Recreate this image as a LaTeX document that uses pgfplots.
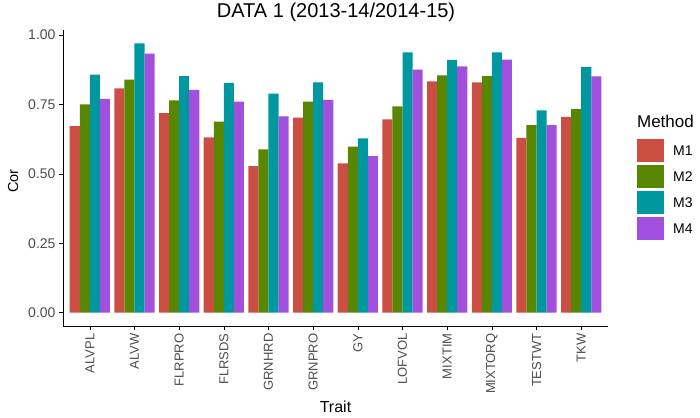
\documentclass[border=0pt]{standalone}
\usepackage{pgfplots}
\pgfplotsset{compat=1.18}
\usepackage{fontspec}
\setmainfont{Liberation Sans}
\definecolor{cM1}{RGB}{204,78,66}
\definecolor{cM2}{RGB}{88,134,0}
\definecolor{cM3}{RGB}{0,152,160}
\definecolor{cM4}{RGB}{161,80,221}
\definecolor{tickgray}{RGB}{77,77,77}
\begin{document}
\begin{tikzpicture}
\begin{axis}[
  at={(63pt,91pt)}, anchor=south west,
  scale only axis, width=545pt, height=296pt,
  xmin=-0.6, xmax=11.6, ymin=-0.0485, ymax=1.0185,
  axis x line*=bottom, axis y line*=left,
  axis line style={black, line width=0.8pt, -},
  xtick={0,...,11},
  xticklabels={ALVPL,ALVW,FLRPRO,FLRSDS,GRNHRD,GRNPRO,GY,LOFVOL,MIXTIM,MIXTORQ,TESTWT,TKW},
  ytick={0,0.25,0.5,0.75,1},
  tick align=outside, major tick length=4pt,
  tick style={black, line width=0.6pt},
  /pgf/number format/assume math mode=true,
  y tick label style={font=\fontsize{14}{16}\selectfont, text=tickgray, /pgf/number format/.cd, fixed, fixed zerofill, precision=2},
  x tick label style={font=\fontsize{13}{15}\selectfont, text=tickgray, rotate=90, anchor=east},
  ylabel={Cor}, xlabel={Trait},
  ylabel style={at={(axis description cs:-0.0917,0.49)}, anchor=center, font=\fontsize{14.5}{16}\selectfont},
  xlabel style={at={(axis description cs:0.5,-0.293)}, anchor=base, font=\fontsize{16}{18}\selectfont},
  title={DATA 1 (2013-14/2014-15)},
  title style={at={(axis description cs:0.501,1.022)}, anchor=base, font=\fontsize{20}{22}\selectfont},
  ybar, bar width=0.225,
  clip=false,
  legend style={at={(axis description cs:1.053,0.639)}, anchor=north west, draw=none, fill=none,
     font=\fontsize{14}{16}\selectfont, inner sep=0pt, row sep=0pt,
     nodes={inner sep=0pt}},
  legend cell align=left,
  legend image code/.code={\fill[#1] (0pt,-10pt) rectangle (27pt,13pt); \path[fill=none,draw=none] (0pt,-11.5pt) rectangle (36pt,14.5pt);},
]
\addplot[fill=cM1, draw=none, bar shift=-0.3375] coordinates {
(0,0.672) (1,0.808) (2,0.719) (3,0.631) (4,0.528) (5,0.703) (6,0.538) (7,0.696) (8,0.833) (9,0.830) (10,0.630) (11,0.705)};
\addplot[fill=cM2, draw=none, bar shift=-0.1125] coordinates {
(0,0.750) (1,0.840) (2,0.765) (3,0.688) (4,0.588) (5,0.760) (6,0.598) (7,0.743) (8,0.855) (9,0.852) (10,0.676) (11,0.733)};
\addplot[fill=cM3, draw=none, bar shift=0.1125] coordinates {
(0,0.858) (1,0.970) (2,0.852) (3,0.828) (4,0.789) (5,0.830) (6,0.628) (7,0.938) (8,0.911) (9,0.938) (10,0.729) (11,0.886)};
\addplot[fill=cM4, draw=none, bar shift=0.3375] coordinates {
(0,0.770) (1,0.933) (2,0.803) (3,0.760) (4,0.707) (5,0.767) (6,0.564) (7,0.876) (8,0.887) (9,0.912) (10,0.676) (11,0.851)};
\legend{M1,M2,M3,M4}
\node[anchor=base west, font=\fontsize{17}{19}\selectfont, inner sep=0pt] at (axis description cs:1.053,0.672) {Method};
\end{axis}
\pgfresetboundingbox
\useasboundingbox (0,0) rectangle (700pt,417pt);
\end{tikzpicture}
\end{document}
